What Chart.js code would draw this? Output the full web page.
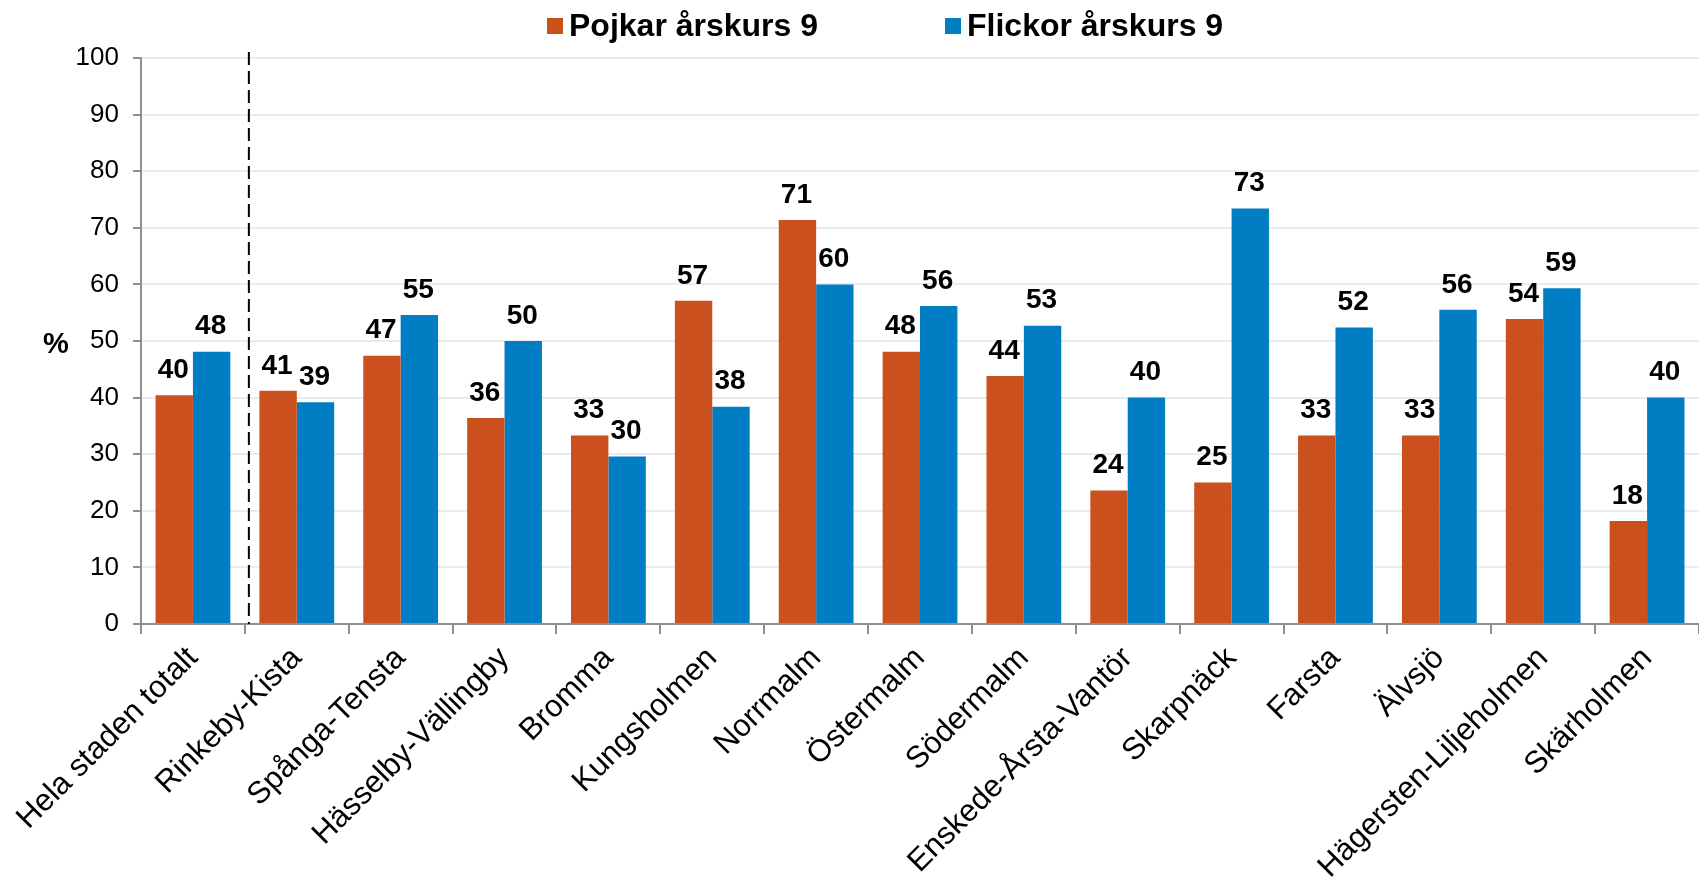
<!DOCTYPE html>
<html>
<head>
<meta charset="utf-8">
<script src="https://cdn.jsdelivr.net/npm/chart.js@4.4.1/dist/chart.umd.min.js"></script>
<style>
    html, body { margin: 0; padding: 0; background: #fff; }
</style>
</head>
<body>
<canvas id="chart" width="1699" height="887"></canvas>
<script>
const districts = [
    'Hela staden totalt', 'Rinkeby-Kista', 'Spånga-Tensta', 'Hässelby-Vällingby',
    'Bromma', 'Kungsholmen', 'Norrmalm', 'Östermalm', 'Södermalm',
    'Enskede-Årsta-Vantör', 'Skarpnäck', 'Farsta', 'Älvsjö',
    'Hägersten-Liljeholmen', 'Skärholmen'
];
const boys = [40.4, 41.2, 47.4, 36.4, 33.3, 57.1, 71.4, 48.1, 43.8, 23.6, 25.0, 33.3, 33.3, 53.9, 18.2];
const girls = [48.1, 39.2, 54.6, 50.0, 29.6, 38.4, 60.0, 56.2, 52.7, 40.0, 73.4, 52.4, 55.5, 59.3, 40.0];
const seriesNames = ['Pojkar årskurs 9', 'Flickor årskurs 9'];
const yMin = 0, yMax = 100, yStep = 10;
const unitLabel = '%';

const FONT = "'Liberation Sans', Arial, sans-serif";
const ORANGE = '#CA511E';
const BLUE = '#007DC3';
const AXIS = '#8f8f8f';

// numbers above each bar
const valueLabels = {
    id: 'valueLabels',
    afterDatasetsDraw(chart) {
        const ctx = chart.ctx;
        ctx.save();
        ctx.font = 'bold 28px ' + FONT;
        ctx.fillStyle = '#000';
        ctx.textAlign = 'center';
        ctx.textBaseline = 'bottom';
        chart.data.datasets.forEach((ds, i) => {
            chart.getDatasetMeta(i).data.forEach((bar, j) => {
                ctx.fillText(Math.round(ds.data[j]), bar.x - 1, bar.y - 11);
            });
        });
        ctx.restore();
    }
};

// dashed divider after the city total
const divider = {
    id: 'divider',
    afterDatasetsDraw(chart) {
        const x = chart.scales.x, y = chart.scales.y;
        const px = (x.getPixelForValue(0) + x.getPixelForValue(1)) / 2 + 4;
        const ctx = chart.ctx;
        ctx.save();
        ctx.strokeStyle = '#000';
        ctx.lineWidth = 2;
        ctx.setLineDash([13, 6]);
        ctx.beginPath();
        ctx.moveTo(px, y.getPixelForValue(yMax) - 6);
        ctx.lineTo(px, y.getPixelForValue(yMin));
        ctx.stroke();
        ctx.restore();
    }
};

// "%" next to the y axis, plus legend on top
const extras = {
    id: 'extras',
    afterDraw(chart) {
        const ctx = chart.ctx;
        const y = chart.scales.y;
        ctx.save();
        ctx.fillStyle = '#000';
        ctx.font = 'bold 29px ' + FONT;
        ctx.textAlign = 'center';
        ctx.textBaseline = 'middle';
        ctx.fillText(unitLabel, 56, y.getPixelForValue((yMin + yMax) / 2) + 4);

        const items = [{ x: 547 }, { x: 945 }];
        ctx.font = 'bold 32px ' + FONT;
        ctx.textAlign = 'left';
        chart.data.datasets.forEach((ds, i) => {
            ctx.fillStyle = ds.backgroundColor;
            ctx.fillRect(items[i].x, 18, 16, 16);
            ctx.fillStyle = '#000';
            ctx.fillText(ds.label, items[i].x + 22, 27);
        });
        ctx.restore();
    }
};

new Chart(document.getElementById('chart'), {
    type: 'bar',
    data: {
        labels: districts,
        datasets: [
            { label: seriesNames[0], data: boys, backgroundColor: ORANGE },
            { label: seriesNames[1], data: girls, backgroundColor: BLUE }
        ]
    },
    options: {
        responsive: false,
        animation: false,
        devicePixelRatio: 1,
        layout: { padding: { top: 58, left: 0, right: 0, bottom: 0 } },
        datasets: {
            bar: { categoryPercentage: 0.72, barPercentage: 1.0 }
        },
        plugins: {
            legend: { display: false },
            tooltip: { enabled: false }
        },
        scales: {
            x: {
                grid: {
                    drawOnChartArea: false,
                    color: AXIS,
                    lineWidth: 2,
                    tickLength: 10
                },
                border: { color: AXIS, width: 2 },
                ticks: {
                    color: '#000',
                    font: { family: FONT, size: 31 },
                    minRotation: 45,
                    maxRotation: 45,
                    autoSkip: false,
                    padding: 6
                },
                afterFit(scale) { scale.height = 887 - 624; }
            },
            y: {
                min: yMin,
                max: yMax,
                grid: {
                    color: '#ebebeb',
                    lineWidth: 2,
                    tickColor: AXIS,
                    tickLength: 8
                },
                border: { color: AXIS, width: 2 },
                ticks: {
                    stepSize: yStep,
                    color: '#000',
                    font: { family: FONT, size: 26 },
                    padding: 14
                },
                afterFit(scale) { scale.width = 141; }
            }
        }
    },
    plugins: [valueLabels, divider, extras]
});
</script>
</body>
</html>
